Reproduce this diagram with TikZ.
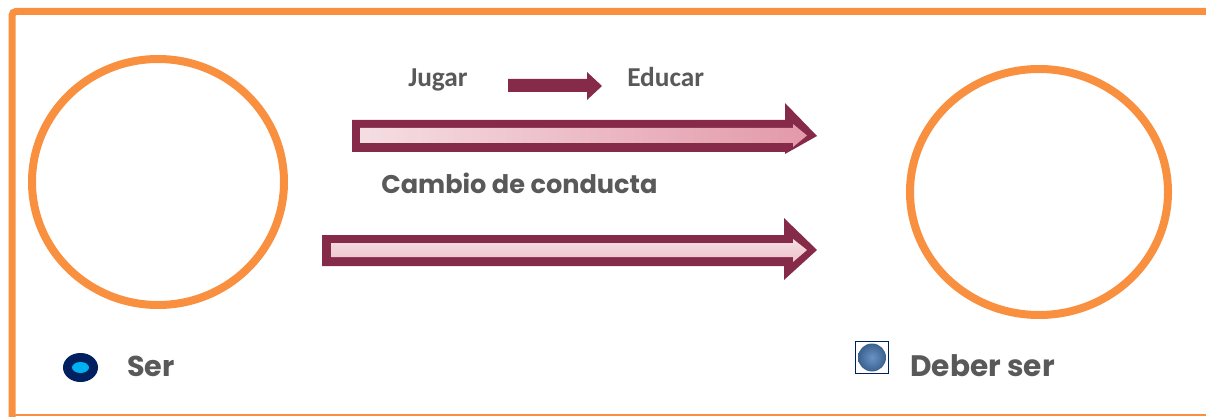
\documentclass[tikz,border=0pt]{standalone}
\usepackage{fontspec}
\setmainfont{Poppins}
\newfontfamily\calibfont{Carlito}
\usepackage{xcolor}
\usetikzlibrary{positioning,calc}
\definecolor{naranja}{HTML}{F99040}
\definecolor{granate}{HTML}{862A4A}
\definecolor{gristexto}{HTML}{595959}
\definecolor{marino}{HTML}{002060}
\definecolor{celeste}{HTML}{00B0F0}
\definecolor{azulbola}{HTML}{4F81BD}
\definecolor{rosaclaro}{HTML}{F5DEE3}
\definecolor{rosafuerte}{HTML}{E399A9}
\definecolor{rosamedio}{HTML}{EDC3CB}

\tikzset{
  aro/.style={draw=naranja, line width=6pt},
  etiqueta/.style={anchor=base west, inner sep=0pt, text=gristexto, font=\bfseries},
  etiquetab/.style={anchor=base west, inner sep=0pt, text=gristexto, font=\calibfont\bfseries}
}

\begin{document}
\begin{tikzpicture}[x=0.75pt, y=-0.75pt]
  \useasboundingbox (0,0) rectangle (1206,417);
  \coordinate (S) at (158,182);
  \coordinate (D) at (1039,192);

  % marco
  \draw[naranja, line width=1.5pt] (12,415) -- (1206,415);
  \draw[naranja, line width=5.25pt, rounded corners=3pt] (12,417) -- (12,11.5) -- (1206,11.5);

  % circulos
  \draw[aro] (S) circle[x radius=126, y radius=123];
  \draw[aro] (D) circle[x radius=129, y radius=123];

  % flecha chica
  \fill[granate] (508,79) -- (587,79) -- (587,72) -- (602,86) -- (587,100) -- (587,92) -- (508,92) -- cycle;

  % flecha de arriba
  \fill[granate] (352,120) -- (785,120) -- (785,103) -- (817,136) -- (785,154) -- (785,152) -- (352,152) -- cycle;
  \shade[left color=rosaclaro, right color=rosafuerte] (360,128) -- (793,128) -- (793,124) -- (807,135.5) -- (793,147) -- (793,143) -- (360,143) -- cycle;

  % flecha de abajo
  \fill[granate] (322,235) -- (784,235) -- (784,218) -- (817,250) -- (784,280) -- (784,266) -- (322,266) -- cycle;
  \shade[top color=rosaclaro, bottom color=rosamedio] (331,243) -- (793,243) -- (793,239) -- (807,250) -- (793,262) -- (793,257) -- (331,257) -- cycle;

  % vinetas
  \fill[marino] (80.5,367.5) circle[x radius=17.5, y radius=14.5];
  \fill[celeste] (80.5,367.5) circle[x radius=8.5, y radius=5.5];
  \draw[marino, line width=1.2pt] (855.5,341.5) rectangle (888.5,373.5);
  \shade[inner color=azulbola!85!white, outer color=azulbola!75!black] (872,357.5) circle[radius=14];

  % textos
  \node[etiquetab, font=\calibfont\bfseries\fontsize{20.5}{24}\selectfont] (jugar) at (408,86.7) {Jugar};
  \node[etiquetab, font=\calibfont\bfseries\fontsize{20.5}{24}\selectfont] (educar) at (627,87) {Educar};
  \node[etiqueta, font=\bfseries\fontsize{19.2}{22}\selectfont] (cambio) at (381,194) {Cambio de conducta};
  \node[etiqueta, font=\bfseries\fontsize{21.5}{25}\selectfont] (ser) at (127,376) {Ser};
  \node[etiqueta, font=\bfseries\fontsize{22.2}{26}\selectfont] (deber) at (910,376) {Deber ser};
\end{tikzpicture}
\end{document}
